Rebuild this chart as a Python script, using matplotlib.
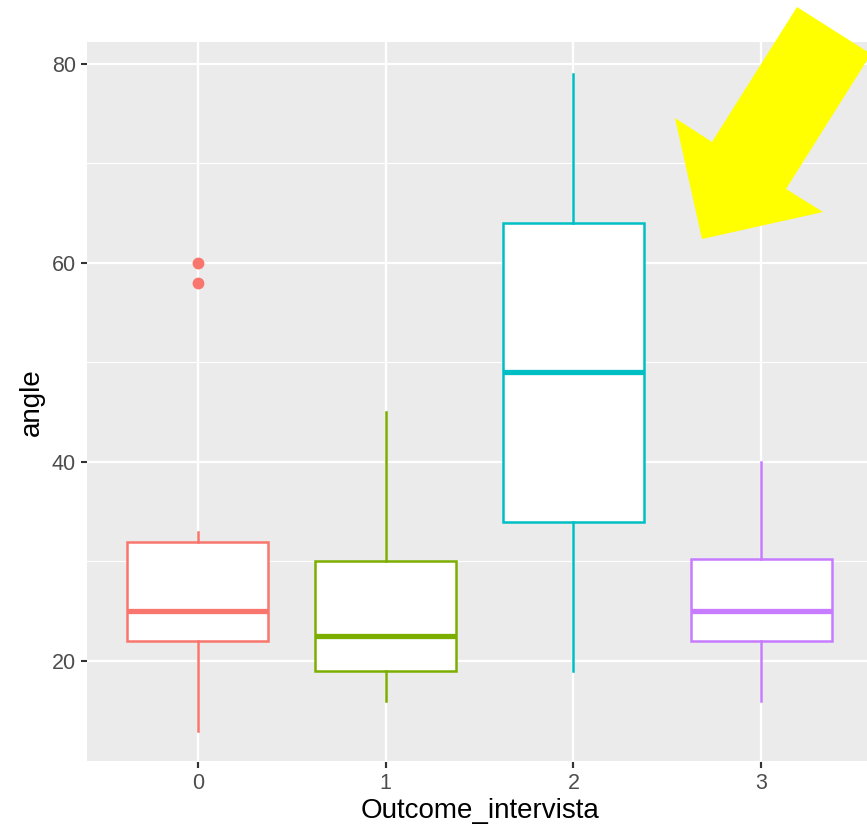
#!/usr/bin/env python3
import matplotlib
matplotlib.use('Agg')
import matplotlib.pyplot as plt
from matplotlib.patches import Polygon

plt.rcParams['font.family'] = ['Liberation Sans', 'DejaVu Sans']

# datos
grupos = ['0', '1', '2', '3']
colores = ['#F8766D', '#7CAE00', '#00BFC4', '#C77CFF']
wlo = [13, 16, 19, 16]
q1 = [22, 19, 34, 22]
med = [25, 22.5, 49, 25]
q3 = [32, 30, 64, 30.2]
whi = [33, 45, 79, 40]
outliers = [[60, 58], [], [], []]

# flecha amarilla (en píxeles de la imagen, origen arriba-izquierda)
flecha_px = [(702, 239), (675, 118), (712, 142), (797, 7), (871, 54),
             (786, 189), (823, 212)]

W, H = 867, 830
fig = plt.figure(figsize=(W / 100, H / 100), dpi=100)
ax = fig.add_axes([87 / W, 1 - 762 / H, (874 - 87) / W, (762 - 42) / H])
ax.set_facecolor('#EBEBEB')
for s in ax.spines.values():
    s.set_visible(False)

ax.set_ylim(9.85, 82.2)
ax.set_yticks([20, 40, 60, 80])
ax.set_yticks([10, 30, 50, 70], minor=True)
ax.set_xticks(range(len(grupos)))
ax.set_xticklabels(grupos)
ax.grid(True, which='major', color='white', lw=1.6)
ax.grid(True, which='minor', axis='y', color='white', lw=0.8)
ax.set_axisbelow(True)
ax.tick_params(which='major', length=4, width=1.5, color='#333333',
               labelcolor='#4D4D4D', labelsize=15.5, pad=4)
ax.tick_params(which='minor', length=0)

for i in range(len(grupos)):
    st = [dict(whislo=wlo[i], q1=q1[i], med=med[i], q3=q3[i], whishi=whi[i],
               fliers=outliers[i])]
    c = colores[i]
    ax.bxp(st, positions=[i], widths=0.75, patch_artist=True, showcaps=False,
           boxprops=dict(facecolor='white', edgecolor=c, lw=1.8),
           whiskerprops=dict(color=c, lw=1.8),
           medianprops=dict(color=c, lw=3.8, solid_capstyle='butt'),
           flierprops=dict(marker='o', markerfacecolor=c, markeredgecolor='none',
                           markersize=8.5),
           zorder=3)

ax.set_xlim(-0.59, 3.6)
ax.set_xlabel('Outcome_intervista', fontsize=20, color='black', labelpad=3)
ax.set_ylabel('angle', fontsize=20, color='black', labelpad=5)

pts = [(x / W, 1 - y / H) for x, y in flecha_px]
fig.patches.append(Polygon(pts, closed=True, facecolor='#FFFF00', edgecolor='none',
                           transform=fig.transFigure, zorder=10))

fig.savefig('out.png', dpi=100)
